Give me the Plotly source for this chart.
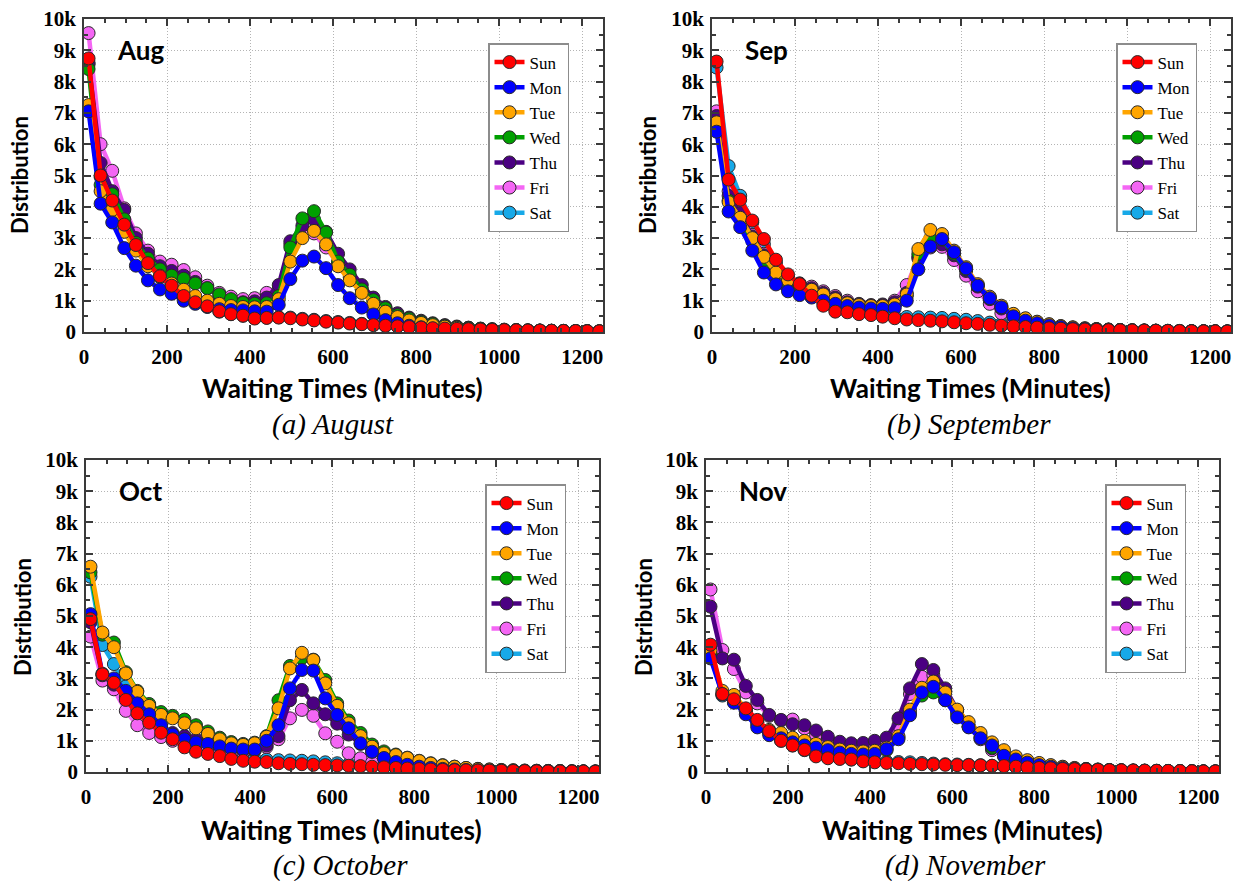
import plotly.graph_objects as go

# Waiting-time bins (minutes, bin centres)
MINUTES = [11, 40, 68, 97, 125, 154, 183, 211, 240, 268, 297, 326, 354, 383, 411,
           440, 469, 497, 526, 554, 583, 612, 640, 669, 697, 726, 755, 783, 812,
           840, 869, 898, 926, 955, 983, 1012, 1041, 1069, 1098, 1126, 1155, 1184,
           1212, 1241]

DAYS = ["Sun", "Mon", "Tue", "Wed", "Thu", "Fri", "Sat"]
DAY_COLORS = {
    "Sun": "#ff0000", "Mon": "#0000ff", "Tue": "#ffa500", "Wed": "#00a000",
    "Thu": "#4b0082", "Fri": "#f466f4", "Sat": "#17a9e8",
}

X_TICKS = [0, 200, 400, 600, 800, 1000, 1200]
Y_TICKS = [0, 1000, 2000, 3000, 4000, 5000, 6000, 7000, 8000, 9000, 10000]
Y_TICK_TEXT = ["0", "1k", "2k", "3k", "4k", "5k", "6k", "7k", "8k", "9k", "10k"]

# ---- August ----
aug_sun = [8740, 5000, 4200, 3430, 2780, 2200, 1780, 1480, 1150, 950, 820,
           660, 570, 520, 430, 450, 460, 440, 400, 370, 330, 300,
           270, 250, 220, 200, 180, 160, 140, 120, 110, 100, 90,
           80, 70, 60, 55, 50, 45, 40, 35, 30, 25, 20]
aug_mon = [7050, 4100, 3500, 2680, 2120, 1650, 1360, 1220, 1000, 900, 800,
           730, 700, 690, 660, 650, 870, 1690, 2280, 2410, 2040, 1500,
           1080, 780, 560, 380, 280, 200, 150, 110, 90, 70, 60,
           50, 40, 35, 30, 25, 20, 20, 15, 15, 10, 10]
aug_tue = [7250, 4500, 3900, 3200, 2600, 2100, 1800, 1550, 1350, 1150, 1000,
           900, 830, 800, 790, 800, 1050, 2250, 3000, 3230, 2800, 2100,
           1650, 1250, 900, 650, 480, 370, 290, 220, 170, 135, 105,
           85, 70, 60, 50, 45, 40, 35, 30, 25, 20, 20]
aug_wed = [8400, 4700, 4400, 3600, 2850, 2350, 2000, 1800, 1700, 1550, 1400,
           1200, 1050, 930, 900, 920, 1150, 2700, 3630, 3860, 3180, 2250,
           1830, 1360, 1020, 760, 540, 430, 330, 260, 200, 160, 130,
           100, 85, 70, 60, 50, 45, 40, 35, 30, 25, 20]
aug_thu = [8600, 5400, 4500, 3900, 3000, 2500, 2100, 1950, 1800, 1600, 1400,
           1150, 1020, 950, 980, 1100, 1500, 2900, 3400, 3600, 3200, 2500,
           2000, 1500, 1100, 800, 600, 460, 360, 280, 220, 175, 140,
           110, 90, 75, 60, 50, 45, 40, 35, 30, 25, 20]
aug_fri = [9550, 6000, 5150, 3950, 3150, 2600, 2250, 2150, 1980, 1750, 1480,
           1250, 1130, 1050, 1080, 1250, 1400, 2800, 3300, 3150, 2700, 2200,
           1750, 1350, 1000, 750, 560, 430, 330, 260, 200, 160, 130,
           100, 80, 65, 55, 45, 40, 35, 30, 25, 20, 20]
aug_sat = [8550, 4950, 4100, 3350, 2700, 2150, 1750, 1450, 1130, 940, 810,
           650, 570, 520, 450, 460, 470, 460, 420, 390, 350, 320,
           290, 260, 230, 200, 180, 160, 140, 120, 110, 100, 90,
           80, 70, 60, 55, 50, 45, 40, 35, 30, 25, 20]

# ---- September ----
sep_sun = [8640, 4870, 4230, 3560, 2970, 2310, 1840, 1530, 1160, 840, 650,
           630, 570, 540, 490, 440, 400, 380, 360, 340, 310, 280,
           260, 230, 200, 180, 160, 140, 120, 105, 90, 80, 70,
           60, 55, 50, 45, 40, 35, 30, 25, 20, 20, 15]
sep_mon = [6400, 3850, 3350, 2600, 1900, 1520, 1300, 1180, 1100, 1000, 900,
           830, 780, 750, 740, 760, 1000, 2000, 2730, 2970, 2550, 2030,
           1480, 1080, 790, 500, 360, 280, 210, 160, 120, 100, 80,
           65, 55, 45, 40, 35, 30, 25, 20, 20, 15, 15]
sep_tue = [6700, 4150, 3650, 3000, 2400, 1900, 1650, 1500, 1350, 1200, 1050,
           920, 860, 830, 830, 880, 1200, 2650, 3260, 3130, 2600, 2070,
           1530, 1130, 840, 580, 440, 330, 250, 190, 150, 120, 95,
           80, 65, 55, 45, 40, 35, 30, 25, 20, 20, 15]
sep_wed = [6600, 4200, 3600, 2900, 2300, 1850, 1600, 1450, 1300, 1150, 1000,
           900, 840, 810, 800, 850, 1150, 2500, 3000, 2950, 2500, 2000,
           1500, 1100, 800, 560, 420, 320, 240, 180, 140, 110, 90,
           75, 60, 50, 45, 40, 35, 30, 25, 20, 20, 15]
sep_thu = [6900, 4350, 3800, 3050, 2450, 1950, 1700, 1550, 1400, 1250, 1100,
           950, 880, 850, 860, 950, 1250, 2400, 2850, 2800, 2450, 1950,
           1450, 1050, 750, 520, 390, 300, 230, 180, 140, 110, 90,
           75, 60, 50, 45, 40, 35, 30, 25, 20, 20, 15]
sep_fri = [7050, 4500, 3900, 3100, 2500, 1950, 1700, 1550, 1450, 1300, 1150,
           1000, 900, 860, 880, 1000, 1500, 2350, 2700, 2720, 2300, 1800,
           1300, 900, 600, 420, 310, 240, 180, 140, 110, 90, 75,
           60, 50, 45, 40, 35, 30, 25, 20, 20, 15, 15]
sep_sat = [8450, 5300, 4350, 3500, 2800, 2200, 1750, 1500, 1200, 950, 800,
           700, 620, 580, 540, 500, 480, 470, 460, 450, 420, 390,
           350, 300, 260, 220, 190, 160, 140, 120, 100, 90, 80,
           70, 60, 55, 50, 45, 40, 35, 30, 25, 20, 20]

# ---- October ----
oct_sun = [4900, 3130, 2860, 2310, 1880, 1580, 1260, 1050, 790, 650, 580,
           510, 420, 360, 330, 320, 280, 260, 250, 230, 220, 210,
           200, 190, 170, 150, 130, 110, 95, 80, 70, 60, 55,
           50, 45, 40, 35, 30, 25, 20, 20, 15, 15, 10]
oct_mon = [5060, 3150, 3000, 2600, 2200, 1850, 1500, 1200, 1050, 950, 900,
           820, 750, 720, 720, 1000, 1500, 2680, 3270, 3250, 2360, 1830,
           1400, 920, 650, 450, 320, 230, 170, 130, 100, 80, 65,
           55, 45, 40, 35, 30, 25, 20, 20, 15, 15, 10]
oct_tue = [6580, 4470, 4000, 3160, 2570, 2120, 1830, 1720, 1560, 1400, 1220,
           1050, 920, 870, 920, 1130, 2040, 3320, 3820, 3590, 2840, 2120,
           1560, 1150, 810, 600, 540, 450, 350, 270, 210, 170, 130,
           100, 80, 65, 55, 45, 40, 35, 30, 25, 20, 20]
oct_wed = [6400, 4400, 4150, 3200, 2600, 2180, 1920, 1800, 1680, 1500, 1300,
           1100, 960, 900, 940, 1150, 2300, 3400, 3650, 3600, 2950, 2200,
           1650, 1250, 880, 660, 560, 460, 360, 280, 220, 170, 130,
           100, 80, 65, 55, 45, 40, 35, 30, 25, 20, 20]
oct_thu = [4800, 3100, 2800, 2400, 2000, 1700, 1400, 1250, 1150, 1050, 950,
           850, 760, 700, 700, 850, 1150, 2300, 2630, 2200, 1850, 1550,
           1200, 900, 650, 450, 320, 240, 180, 140, 110, 90, 70,
           60, 50, 40, 35, 30, 25, 20, 20, 15, 15, 10]
oct_fri = [4340, 2930, 2650, 1960, 1500, 1250, 1120, 1000, 900, 800, 740,
           690, 650, 640, 680, 800, 1050, 1720, 1990, 1800, 1240, 970,
           600, 440, 300, 200, 150, 110, 85, 65, 55, 45, 40,
           35, 30, 25, 20, 20, 15, 15, 10, 10, 10, 10]
oct_sat = [6260, 4070, 3460, 2740, 2250, 1760, 1450, 1200, 1000, 850, 700,
           600, 500, 450, 420, 400, 380, 370, 360, 340, 310, 280,
           250, 220, 190, 160, 140, 120, 100, 90, 80, 70, 60,
           50, 45, 40, 35, 30, 25, 20, 20, 15, 15, 10]

# ---- November ----
nov_sun = [4080, 2500, 2330, 2040, 1670, 1310, 1000, 850, 710, 500, 440,
           420, 400, 340, 310, 290, 280, 260, 250, 240, 230, 220,
           220, 210, 200, 190, 170, 150, 130, 120, 100, 90, 80,
           70, 60, 55, 50, 45, 40, 35, 30, 25, 20, 20]
nov_mon = [3640, 2490, 2220, 1850, 1430, 1180, 1080, 950, 850, 780, 700,
           620, 580, 560, 580, 730, 1050, 1820, 2550, 2730, 2300, 1750,
           1430, 1080, 850, 520, 400, 300, 220, 170, 130, 100, 80,
           65, 55, 45, 40, 35, 30, 25, 20, 20, 15, 15]
nov_tue = [3900, 2600, 2470, 2000, 1600, 1350, 1250, 1100, 1000, 900, 800,
           720, 680, 660, 680, 780, 1150, 2000, 2700, 2900, 2550, 2000,
           1600, 1250, 950, 700, 500, 380, 290, 220, 170, 130, 100,
           80, 65, 55, 45, 40, 35, 30, 25, 20, 20, 15]
nov_wed = [3800, 2500, 2350, 1950, 1500, 1300, 1150, 1050, 950, 850, 750,
           660, 620, 600, 620, 700, 1100, 1900, 2450, 2550, 2300, 1850,
           1450, 1100, 780, 550, 420, 320, 240, 180, 140, 110, 85,
           70, 55, 45, 40, 35, 30, 25, 20, 20, 15, 15]
nov_thu = [5300, 3640, 3600, 2760, 2310, 1830, 1670, 1530, 1500, 1330, 1130,
           970, 920, 930, 1000, 1100, 1720, 2680, 3460, 3270, 2680, 1990,
           1460, 1130, 760, 580, 440, 350, 270, 210, 160, 120, 95,
           75, 60, 50, 40, 35, 30, 25, 20, 20, 15, 15]
nov_fri = [5850, 3910, 3300, 2550, 2200, 1800, 1650, 1680, 1400, 1200, 1000,
           880, 830, 820, 850, 950, 1500, 2500, 3050, 3100, 2600, 1950,
           1450, 1050, 700, 500, 380, 290, 220, 170, 130, 100, 80,
           65, 55, 45, 40, 35, 30, 25, 20, 20, 15, 15]
nov_sat = [3800, 2450, 2250, 1950, 1600, 1250, 1000, 850, 700, 550, 470,
           430, 400, 360, 340, 330, 320, 310, 290, 270, 250, 240,
           230, 220, 200, 190, 170, 150, 130, 120, 100, 90, 80,
           70, 60, 55, 50, 45, 40, 35, 30, 25, 20, 20]

MONTHS = [
    ("Aug", "(a) August",
     dict(Sun=aug_sun, Mon=aug_mon, Tue=aug_tue, Wed=aug_wed, Thu=aug_thu, Fri=aug_fri, Sat=aug_sat)),
    ("Sep", "(b) September",
     dict(Sun=sep_sun, Mon=sep_mon, Tue=sep_tue, Wed=sep_wed, Thu=sep_thu, Fri=sep_fri, Sat=sep_sat)),
    ("Oct", "(c) October",
     dict(Sun=oct_sun, Mon=oct_mon, Tue=oct_tue, Wed=oct_wed, Thu=oct_thu, Fri=oct_fri, Sat=oct_sat)),
    ("Nov", "(d) November",
     dict(Sun=nov_sun, Mon=nov_mon, Tue=nov_tue, Wed=nov_wed, Thu=nov_thu, Fri=nov_fri, Sat=nov_sat)),
]

# Page geometry (pixels) for each panel: plot box, legend corner, caption and axis-title centres
W, H = 1241, 881
PANEL_BOXES = [
    dict(box=(84, 603, 19, 332), legend=(488, 43), caption=(333, 424), xtitle=(342, 388), ytitle=(20, 175)),
    dict(box=(712, 1231, 19, 332), legend=(1116, 43), caption=(969, 424), xtitle=(970, 388), ytitle=(648, 175)),
    dict(box=(86, 599, 460, 772), legend=(485, 484), caption=(340, 865), xtitle=(341, 830), ytitle=(22, 617)),
    dict(box=(706, 1219, 460, 772), legend=(1105, 484), caption=(965, 865), xtitle=(962, 830), ytitle=(643, 617)),
]

SERIF = "Liberation Serif, Times New Roman, serif"
SANS = "Lato, Open Sans, sans-serif"
AXIS_COLOR = "#3a3a3a"

fig = go.Figure()
layout = dict(
    template="none",
    width=W, height=H, autosize=False,
    margin=dict(l=0, r=0, t=0, b=0, pad=0, autoexpand=False),
    paper_bgcolor="white", plot_bgcolor="white", showlegend=True,
    annotations=[],
)

for i, ((short, caption, series), geo) in enumerate(zip(MONTHS, PANEL_BOXES)):
    sfx = "" if i == 0 else str(i + 1)
    x0, x1, y0, y1 = geo["box"]
    for day in reversed(DAYS):
        color = DAY_COLORS[day]
        fig.add_trace(go.Scatter(
            x=MINUTES, y=series[day], name=day, mode="lines+markers",
            line=dict(color=color, width=4.5),
            marker=dict(size=13, color=color, line=dict(color="#2a2a2a", width=1)),
            xaxis="x" + sfx, yaxis="y" + sfx, legend="legend" + sfx,
        ))

    common = dict(
        ticks="inside", ticklen=7, tickwidth=1.5, tickcolor=AXIS_COLOR,
        showline=True, linecolor=AXIS_COLOR, linewidth=1.5, mirror="ticks",
        showgrid=True, gridcolor="#b4b4b4", griddash="1px,2px", gridwidth=1,
        zeroline=False, fixedrange=True, automargin=False,
        tickfont=dict(family=SERIF, size=21, color="black", weight="bold"),
    )
    layout["xaxis" + sfx] = dict(
        common, domain=[x0 / W, x1 / W], anchor="y" + sfx, range=[0, 1250],
        tickvals=X_TICKS, ticklabelstandoff=5,
        minor=dict(dtick=50, tick0=0, ticks="inside", ticklen=4, tickcolor=AXIS_COLOR, showgrid=False),
    )
    layout["yaxis" + sfx] = dict(
        common, domain=[1 - y1 / H, 1 - y0 / H], anchor="x" + sfx, range=[0, 10000],
        tickvals=Y_TICKS, ticktext=Y_TICK_TEXT, ticklabelstandoff=2,
        minor=dict(dtick=500, tick0=0, ticks="inside", ticklen=4, tickcolor=AXIS_COLOR, showgrid=False),
    )

    lx, ly = geo["legend"]
    layout["legend" + sfx] = dict(
        x=lx / W, y=1 - ly / H, xanchor="left", yanchor="top",
        xref="paper", yref="paper", traceorder="reversed",
        bgcolor="white", bordercolor="#8c8c8c", borderwidth=1.5,
        font=dict(family=SERIF, size=17, color="black"),
        itemwidth=30, tracegroupgap=0,
    )

    # month label inside the plot
    layout["annotations"].append(dict(
        x=75, y=9000, xref="x" + sfx, yref="y" + sfx, text=short, showarrow=False,
        xanchor="left", yanchor="middle",
        font=dict(family=SANS, size=26, color="black", weight="bold"),
    ))
    cx, cy = geo["caption"]
    layout["annotations"].append(dict(
        x=cx / W, y=1 - cy / H, xref="paper", yref="paper", text=caption,
        showarrow=False, xanchor="center", yanchor="middle",
        font=dict(family=SERIF, size=29, color="black", style="italic"),
    ))
    tx, ty = geo["xtitle"]
    layout["annotations"].append(dict(
        x=tx / W, y=1 - ty / H, xref="paper", yref="paper", text="Waiting Times (Minutes)",
        showarrow=False, xanchor="center", yanchor="middle",
        font=dict(family=SANS, size=26, color="black", weight="bold"),
    ))
    vx, vy = geo["ytitle"]
    layout["annotations"].append(dict(
        x=vx / W, y=1 - vy / H, xref="paper", yref="paper", text="Distribution",
        showarrow=False, xanchor="center", yanchor="middle", textangle=-90,
        font=dict(family=SANS, size=22, color="black", weight="bold"),
    ))

fig.update_layout(**layout)
fig.write_html("out.html")
